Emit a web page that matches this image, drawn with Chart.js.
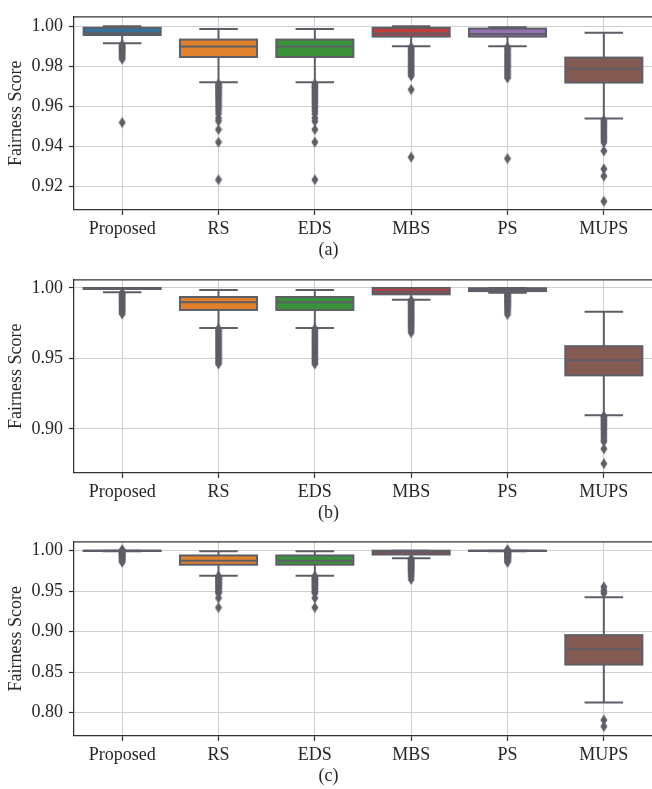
<!DOCTYPE html>
<html>
<head>
<meta charset="utf-8">
<script src="https://cdn.jsdelivr.net/npm/chart.js@4.4.1/dist/chart.umd.min.js"></script>
<style>
html, body { margin: 0; padding: 0; background: #fff; overflow: hidden; width: 652px; height: 789px; }
canvas { position: absolute; left: 0; }
</style>
</head>
<body>
<canvas id="panelA" width="657" height="263" style="top:0px"></canvas>
<canvas id="panelB" width="657" height="263" style="top:263px"></canvas>
<canvas id="panelC" width="657" height="264" style="top:525px"></canvas>
<script>
const categories = ['Proposed', 'RS', 'EDS', 'MBS', 'PS', 'MUPS'];
const boxColors = ['#3274a1', '#e1812c', '#3a923a', '#c03d3d', '#9372b2', '#845b53'];

// (a)
const q1A  = [0.9956, 0.9846, 0.9846, 0.9948, 0.9948, 0.9718];
const medA = [0.9967, 0.9898, 0.9898, 0.9964, 0.9961, 0.9787];
const q3A  = [0.9992, 0.9933, 0.9933, 0.9992, 0.9988, 0.9843];
const loA  = [0.9915, 0.9720, 0.9720, 0.9900, 0.9900, 0.9538];
const hiA  = [1.0000, 0.9986, 0.9986, 1.0000, 0.9995, 0.9967];
const outA = [
  [0.9908, 0.9903, 0.9897, 0.9893, 0.9887, 0.9882, 0.9876, 0.9871, 0.9864, 0.9857, 0.9850, 0.9843, 0.9835, 0.9518],
  [0.9712, 0.9705, 0.9697, 0.9690, 0.9683, 0.9675, 0.9666, 0.9658, 0.9651, 0.9641, 0.9632, 0.9623, 0.9612, 0.9601, 0.9590, 0.9578, 0.9563, 0.9540, 0.9525, 0.9483, 0.9420, 0.9232],
  [0.9712, 0.9704, 0.9697, 0.9691, 0.9682, 0.9674, 0.9667, 0.9659, 0.9650, 0.9642, 0.9631, 0.9622, 0.9613, 0.9600, 0.9591, 0.9577, 0.9562, 0.9541, 0.9524, 0.9483, 0.9420, 0.9232],
  [0.9895, 0.9887, 0.9880, 0.9871, 0.9863, 0.9856, 0.9847, 0.9838, 0.9831, 0.9823, 0.9814, 0.9807, 0.9799, 0.9790, 0.9783, 0.9775, 0.9766, 0.9759, 0.9751, 0.9683, 0.9345],
  [0.9895, 0.9886, 0.9878, 0.9868, 0.9859, 0.9851, 0.9841, 0.9832, 0.9824, 0.9814, 0.9805, 0.9797, 0.9787, 0.9778, 0.9769, 0.9760, 0.9750, 0.9741, 0.9338],
  [0.9530, 0.9522, 0.9514, 0.9505, 0.9496, 0.9487, 0.9479, 0.9469, 0.9460, 0.9450, 0.9441, 0.9430, 0.9418, 0.9376, 0.9286, 0.9250, 0.9124]
];
const ticksA = [0.92, 0.94, 0.96, 0.98, 1.00];

// (b)
const q1B  = [0.9993, 0.9844, 0.9844, 0.9955, 0.9978, 0.9380];
const medB = [0.9997, 0.9899, 0.9899, 0.9973, 0.9990, 0.9488];
const q3B  = [1.0000, 0.9936, 0.9936, 1.0000, 0.9998, 0.9587];
const loB  = [0.9969, 0.9716, 0.9716, 0.9917, 0.9966, 0.9097];
const hiB  = [1.0000, 0.9985, 0.9985, 1.0000, 1.0000, 0.9832];
const outB = [
  [0.9965, 0.9958, 0.9950, 0.9941, 0.9934, 0.9925, 0.9916, 0.9908, 0.9898, 0.9889, 0.9881, 0.9871, 0.9862, 0.9853, 0.9845, 0.9835, 0.9826, 0.9816],
  [0.9710, 0.9698, 0.9687, 0.9675, 0.9663, 0.9651, 0.9640, 0.9627, 0.9616, 0.9604, 0.9592, 0.9580, 0.9569, 0.9557, 0.9545, 0.9533, 0.9521, 0.9509, 0.9497, 0.9485, 0.9473, 0.9461],
  [0.9711, 0.9699, 0.9686, 0.9676, 0.9662, 0.9652, 0.9639, 0.9628, 0.9615, 0.9605, 0.9591, 0.9581, 0.9568, 0.9558, 0.9544, 0.9534, 0.9520, 0.9510, 0.9496, 0.9486, 0.9472, 0.9461],
  [0.9912, 0.9903, 0.9893, 0.9884, 0.9874, 0.9864, 0.9855, 0.9845, 0.9835, 0.9826, 0.9816, 0.9806, 0.9797, 0.9787, 0.9777, 0.9767, 0.9757, 0.9747, 0.9737, 0.9726, 0.9714, 0.9700, 0.9683],
  [0.9962, 0.9955, 0.9947, 0.9940, 0.9932, 0.9924, 0.9916, 0.9908, 0.9900, 0.9891, 0.9883, 0.9874, 0.9864, 0.9853, 0.9841, 0.9827, 0.9812],
  [0.9092, 0.9083, 0.9073, 0.9063, 0.9052, 0.9041, 0.9029, 0.9016, 0.9003, 0.8989, 0.8974, 0.8958, 0.8940, 0.8922, 0.8910, 0.8859, 0.8754]
];
const ticksB = [0.90, 0.95, 1.00];

// (c)
const q1C  = [0.9996, 0.9827, 0.9827, 0.9953, 0.9996, 0.8592];
const medC = [0.9998, 0.9875, 0.9875, 0.9980, 0.9998, 0.8780];
const q3C  = [1.0000, 0.9941, 0.9941, 1.0000, 1.0000, 0.8956];
const loC  = [0.9993, 0.9690, 0.9690, 0.9906, 0.9994, 0.8122];
const hiC  = [1.0000, 0.9992, 0.9992, 1.0000, 1.0000, 0.9424];
const outC = [
  [1.0010, 1.0004, 0.9990, 0.9982, 0.9974, 0.9966, 0.9958, 0.9949, 0.9940, 0.9931, 0.9921, 0.9911, 0.9900, 0.9887, 0.9873, 0.9858],
  [0.9685, 0.9672, 0.9659, 0.9645, 0.9632, 0.9618, 0.9604, 0.9590, 0.9576, 0.9561, 0.9545, 0.9528, 0.9509, 0.9490, 0.9475, 0.9415, 0.9297],
  [0.9685, 0.9671, 0.9658, 0.9646, 0.9631, 0.9619, 0.9603, 0.9591, 0.9575, 0.9562, 0.9544, 0.9529, 0.9508, 0.9491, 0.9475, 0.9415, 0.9297],
  [0.9900, 0.9889, 0.9877, 0.9866, 0.9854, 0.9842, 0.9830, 0.9817, 0.9804, 0.9790, 0.9776, 0.9761, 0.9745, 0.9727, 0.9706, 0.9680, 0.9645],
  [1.0010, 1.0004, 0.9991, 0.9983, 0.9975, 0.9967, 0.9959, 0.9950, 0.9941, 0.9932, 0.9922, 0.9912, 0.9900, 0.9888, 0.9873, 0.9857],
  [0.9553, 0.9510, 0.9474, 0.7906, 0.7827]
];
const ticksC = [0.80, 0.85, 0.90, 0.95, 1.00];

const lineGray = '#5e5e66';
const gridGray = '#cfcfcf';
const spine = '#333333';
const textCol = '#262626';
const serif = '"Liberation Serif", "Times New Roman", serif';

// thin diamond like matplotlib's 'd' marker
const diamond = document.createElement('canvas');
diamond.width = 8; diamond.height = 12;
(function () {
  const c = diamond.getContext('2d');
  c.fillStyle = lineGray;
  c.beginPath();
  c.moveTo(4, 0.5); c.lineTo(7.5, 6); c.lineTo(4, 11.5); c.lineTo(0.5, 6);
  c.closePath(); c.fill();
})();

const boxParts = {
  id: 'boxParts',
  beforeDatasetsDraw(chart, args, opts) {
    const ctx = chart.ctx, y = chart.scales.y;
    const bars = chart.getDatasetMeta(0).data;
    ctx.save();
    ctx.strokeStyle = lineGray;
    ctx.lineWidth = 2;
    bars.forEach((bar, i) => {
      const cap = bar.width / 4;
      const yHi = y.getPixelForValue(opts.hi[i]);
      const yLo = y.getPixelForValue(opts.lo[i]);
      ctx.beginPath();
      ctx.moveTo(bar.x, y.getPixelForValue(opts.q3[i])); ctx.lineTo(bar.x, yHi);
      ctx.moveTo(bar.x, y.getPixelForValue(opts.q1[i])); ctx.lineTo(bar.x, yLo);
      ctx.moveTo(bar.x - cap, yHi); ctx.lineTo(bar.x + cap, yHi);
      ctx.moveTo(bar.x - cap, yLo); ctx.lineTo(bar.x + cap, yLo);
      ctx.stroke();
    });
    ctx.restore();
  },
  afterDatasetDraw(chart, args, opts) {
    if (args.index !== 0) return;
    const ctx = chart.ctx, y = chart.scales.y;
    const bars = chart.getDatasetMeta(0).data;
    ctx.save();
    ctx.strokeStyle = lineGray;
    ctx.lineWidth = 2;
    bars.forEach((bar, i) => {
      const top = Math.min(bar.y, bar.base), bot = Math.max(bar.y, bar.base);
      ctx.strokeRect(bar.x - bar.width / 2, top, bar.width, bot - top);
      const ym = y.getPixelForValue(opts.med[i]);
      ctx.beginPath();
      ctx.moveTo(bar.x - bar.width / 2, ym); ctx.lineTo(bar.x + bar.width / 2, ym);
      ctx.stroke();
    });
    ctx.restore();
  },
  afterDraw(chart) {
    const ctx = chart.ctx, a = chart.chartArea;
    ctx.save();
    ctx.strokeStyle = spine;
    ctx.lineWidth = 1.25;
    ctx.beginPath();
    ctx.moveTo(a.left, a.top); ctx.lineTo(a.right, a.top);
    ctx.stroke();
    ctx.restore();
  }
};

function makePanel(id, q1, med, q3, lo, hi, outliers, yMin, yMax, yTicks, label) {
  const points = [];
  outliers.forEach((vals, i) => vals.forEach(v => points.push({ x: categories[i], y: v })));
  return new Chart(document.getElementById(id), {
    type: 'bar',
    data: {
      labels: categories,
      datasets: [{
        data: q1.map((v, i) => [v, q3[i]]),
        backgroundColor: boxColors,
        borderWidth: 0,
        categoryPercentage: 0.8,
        barPercentage: 1.0
      }, {
        type: 'scatter',
        data: points,
        pointStyle: diamond,
        pointRadius: 5,
        backgroundColor: lineGray,
        borderWidth: 0
      }]
    },
    options: {
      responsive: false,
      animation: false,
      layout: { padding: { top: 6, left: 0, right: 0, bottom: 0 } },
      plugins: {
        legend: { display: false },
        tooltip: { enabled: false },
        title: {
          display: true, position: 'bottom', text: label, color: textCol,
          font: { family: serif, size: 18, weight: 'normal' },
          padding: { top: 0, bottom: 1.5 }
        },
        boxParts: { q1: q1, med: med, q3: q3, lo: lo, hi: hi }
      },
      scales: {
        x: {
          offset: true,
          grid: { offset: false, color: gridGray, lineWidth: 1, tickColor: spine, tickLength: 5, tickWidth: 1.25 },
          border: { display: true, color: spine, width: 1.25 },
          ticks: { color: textCol, padding: 4, font: { family: serif, size: 18 } },
          afterFit: s => { s.height = 30; }
        },
        y: {
          min: yMin, max: yMax,
          afterBuildTicks: s => { s.ticks = yTicks.map(v => ({ value: v })); },
          grid: { color: gridGray, lineWidth: 1, tickColor: spine, tickLength: 5, tickWidth: 1.25 },
          border: { display: true, color: spine, width: 1.25 },
          ticks: { color: textCol, padding: 6, font: { family: serif, size: 18 }, callback: v => v.toFixed(2) },
          title: {
            display: true, text: 'Fairness Score', color: textCol,
            font: { family: serif, size: 18 }, padding: { top: 5, bottom: 0 }
          },
          afterFit: s => { s.width = 74; }
        }
      }
    },
    plugins: [boxParts]
  });
}

makePanel('panelA', q1A, medA, q3A, loA, hiA, outA, 0.9081, 1.0047, ticksA, '(a)');
makePanel('panelB', q1B, medB, q3B, loB, hiB, outB, 0.8688, 1.0058, ticksB, '(b)');
makePanel('panelC', q1C, medC, q3C, loC, hiC, outC, 0.7710, 1.0110, ticksC, '(c)');
</script>
</body>
</html>
